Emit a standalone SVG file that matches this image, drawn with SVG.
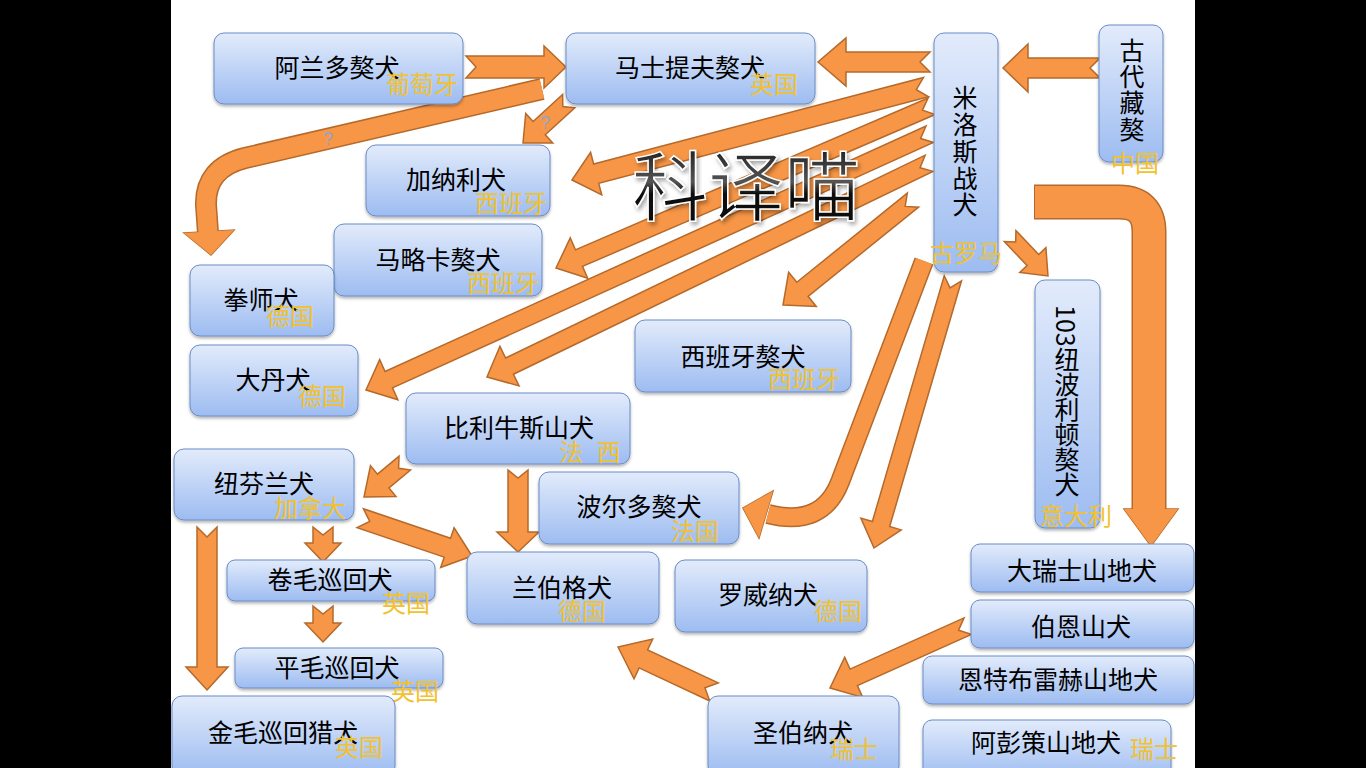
<svg xmlns="http://www.w3.org/2000/svg" width="1366" height="768" viewBox="0 0 1366 768">
<defs>
<linearGradient id="bg" x1="0" y1="0" x2="0" y2="1">
<stop offset="0" stop-color="#E2EBFB"/>
<stop offset="1" stop-color="#9DBCF1"/>
</linearGradient>
<linearGradient id="tg" x1="0" y1="0" x2="0" y2="1">
<stop offset="0" stop-color="#000"/>
<stop offset="0.5" stop-color="#555"/>
<stop offset="0.6" stop-color="#111"/>
<stop offset="1" stop-color="#000"/>
</linearGradient>
<filter id="sh" x="-10%" y="-10%" width="120%" height="130%">
<feDropShadow dx="0" dy="2" stdDeviation="1.5" flood-color="#000" flood-opacity="0.3"/>
</filter>
<filter id="tsh" x="-10%" y="-10%" width="120%" height="130%">
<feDropShadow dx="2" dy="3" stdDeviation="2" flood-color="#000" flood-opacity="0.35"/>
</filter>
<clipPath id="slide"><rect x="171" y="0" width="1024" height="768"/></clipPath>
</defs>
<style>
.box{fill:url(#bg);stroke:#6B8CC6;stroke-width:1;filter:url(#sh)}
.t{font-family:"Noto Sans CJK SC","Liberation Sans",sans-serif;font-size:25px;fill:#000;text-anchor:middle}
.s{font-family:"Noto Sans CJK SC","Liberation Sans",sans-serif;font-size:24px;fill:#F2C12E;text-anchor:middle}
.ar{fill:#F79646;stroke:#B5692A;stroke-width:1.5;stroke-linejoin:miter}
.hd{fill:#F79646;stroke:none}
.q{font-family:"Liberation Sans",sans-serif;font-size:18px;fill:#8FA6CC;text-anchor:middle}
</style>
<rect x="0" y="0" width="1366" height="768" fill="#000"/>
<rect x="171" y="0" width="1024" height="768" fill="#fff"/>
<g clip-path="url(#slide)">
<g id="connectors">
<path class="ar" transform="translate(566,67)" d="M0,0L-22,-21L-22,-11L-100,-11L-90,0L-100,11L-22,11L-22,21Z"/>
<path class="ar" transform="translate(1003,68) rotate(180)" d="M0,0L-25,-24L-25,-10L-97,-10L-87,0L-97,10L-25,10L-25,24Z"/>
<path class="ar" transform="translate(818,62) rotate(180)" d="M0,0L-28,-24L-28,-10L-112,-10L-102,0L-112,10L-28,10L-28,24Z"/>
<path class="ar" transform="translate(523,143) rotate(137.5)" d="M0,0L-22,-20L-22,-9L-62,-9L-54,0L-62,9L-22,9L-22,20Z"/>
<path class="ar" transform="translate(572,180) rotate(165.3)" d="M0,0L-25,-22L-25,-10L-366,-10L-356,0L-366,10L-25,10L-25,22Z"/>
<path class="ar" transform="translate(556,268) rotate(156.7)" d="M0,0L-25,-22L-25,-9L-409,-9L-399,0L-409,9L-25,9L-25,22Z"/>
<path class="ar" transform="translate(366,390) rotate(155.6)" d="M0,0L-25,-22L-25,-9L-619,-9L-609,0L-619,9L-25,9L-25,22Z"/>
<path class="ar" transform="translate(487,377) rotate(154.2)" d="M0,0L-25,-22L-25,-9L-491,-9L-481,0L-491,9L-25,9L-25,22Z"/>
<path class="ar" transform="translate(783,305) rotate(141.1)" d="M0,0L-25,-22L-25,-9L-167,-9L-157,0L-167,9L-25,9L-25,22Z"/>
<path class="ar" transform="translate(1048,276) rotate(46.5)" d="M0,0L-22,-18L-22,-8L-55,-8L-47,0L-55,8L-22,8L-22,18Z"/>
<path class="ar" transform="translate(874,548) rotate(106.3)" d="M0,0L-25,-21L-25,-9L-281,-9L-271,0L-281,9L-25,9L-25,21Z"/>
<path class="ar" transform="translate(830,688) rotate(155.8)" d="M0,0L-26,-22L-26,-9L-151,-9L-141,0L-151,9L-26,9L-26,22Z"/>
<path class="ar" transform="translate(618,647) rotate(205.1)" d="M0,0L-28,-22L-28,-10L-106,-10L-96,0L-106,10L-28,10L-28,22Z"/>
<path class="ar" transform="translate(364,497) rotate(140.3)" d="M0,0L-25,-20L-25,-9L-53,-9L-45,0L-53,9L-25,9L-25,20Z"/>
<path class="ar" transform="translate(518,552) rotate(90)" d="M0,0L-20,-21L-20,-10L-82,-10L-74,0L-82,10L-20,10L-20,21Z"/>
<path class="ar" transform="translate(472,556) rotate(18.7)" d="M0,0L-26,-21L-26,-10L-118,-10L-108,0L-118,10L-26,10L-26,21Z"/>
<path class="ar" transform="translate(323,562) rotate(90)" d="M0,0L-19,-18L-19,-10L-35,-10L-27,0L-35,10L-19,10L-19,18Z"/>
<path class="ar" transform="translate(323,642) rotate(90)" d="M0,0L-19,-18L-19,-10L-36,-10L-28,0L-36,10L-19,10L-19,18Z"/>
<path class="ar" transform="translate(207,690) rotate(90)" d="M0,0L-23,-21L-23,-10L-163,-10L-153,0L-163,10L-23,10L-23,21Z"/>
<!-- curved: to boxer -->
<path d="M542,89 L245,158 Q205,168 206,205 L208,233" fill="none" stroke="#B5692A" stroke-width="22"/>
<polygon class="ar" points="184,233 234,230 211,255"/>
<path d="M542,89 L245,158 Q205,168 206,205 L208,233" fill="none" stroke="#F79646" stroke-width="19"/>
<polygon class="hd" points="184,233 234,230 211,255"/>
<!-- curved: big right -->
<path d="M1034,202 L1119,202 Q1149,202 1149,232 L1149,509" fill="none" stroke="#B5692A" stroke-width="35"/>
<polygon class="ar" points="1124,509 1178,509 1151,546"/>
<path d="M1035,202 L1119,202 Q1149,202 1149,232 L1149,509" fill="none" stroke="#F79646" stroke-width="32"/>
<polygon class="hd" points="1124,509 1178,509 1151,546"/>
<!-- curved: to Bordeaux -->
<path d="M924,261 L840,482 Q822,528 768,514" fill="none" stroke="#B5692A" stroke-width="20"/>
<polygon class="ar" points="773,491 759,538 743,508"/>
<path d="M924,261 L840,482 Q822,528 768,514" fill="none" stroke="#F79646" stroke-width="17"/>
<polygon class="hd" points="773,491 759,538 743,508"/>
<text class="q" x="328" y="145">?</text>
<text class="q" x="545" y="129">?</text>
</g>
<g id="title"><text x="746" y="215" font-family="'Noto Sans CJK SC',sans-serif" font-size="76" text-anchor="middle" fill="url(#tg)" stroke="#fff" stroke-width="1.5" filter="url(#tsh)">科译喵</text></g>
<g id="n1"><rect class="box" x="214" y="33" width="249" height="71" rx="10"/><text class="t" x="337" y="77">阿兰多獒犬</text><text class="s" x="422" y="93">葡萄牙</text></g>
<g id="n2"><rect class="box" x="566" y="33" width="249" height="71" rx="10"/><text class="t" x="690" y="77">马士提夫獒犬</text><text class="s" x="774" y="93">英国</text></g>
<g id="n3"><rect class="box" x="934" y="33" width="64" height="239" rx="10"/><text class="t" x="965"><tspan x="965" y="107">米</tspan><tspan x="965" y="134">洛</tspan><tspan x="965" y="161">斯</tspan><tspan x="965" y="188">战</tspan><tspan x="965" y="214">犬</tspan></text><text class="s" x="966" y="262">古罗马</text></g>
<g id="n4"><rect class="box" x="1099" y="25" width="64" height="137" rx="10"/><text class="t" x="1132"><tspan x="1132" y="60">古</tspan><tspan x="1132" y="86">代</tspan><tspan x="1132" y="112">藏</tspan><tspan x="1132" y="139">獒</tspan></text><text class="s" x="1135" y="172">中国</text></g>
<g id="n5"><rect class="box" x="366" y="145" width="184" height="71" rx="10"/><text class="t" x="456" y="189">加纳利犬</text><text class="s" x="511" y="212">西班牙</text></g>
<g id="n6"><rect class="box" x="334" y="224" width="208" height="72" rx="10"/><text class="t" x="438" y="269">马略卡獒犬</text><text class="s" x="503" y="292">西班牙</text></g>
<g id="n7"><rect class="box" x="190" y="265" width="144" height="71" rx="10"/><text class="t" x="261" y="309">拳师犬</text><text class="s" x="290" y="325">德国</text></g>
<g id="n8"><rect class="box" x="190" y="345" width="168" height="71" rx="10"/><text class="t" x="273" y="389">大丹犬</text><text class="s" x="322" y="405">德国</text></g>
<g id="n9"><rect class="box" x="635" y="320" width="216" height="72" rx="10"/><text class="t" x="743" y="366">西班牙獒犬</text><text class="s" x="804" y="388">西班牙</text></g>
<g id="n10"><rect class="box" x="406" y="393" width="224" height="71" rx="10"/><text class="t" x="519" y="437">比利牛斯山犬</text><text class="s" x="590" y="461" style="word-spacing:8px">法 西</text></g>
<g id="n11"><rect class="box" x="1035" y="280" width="65" height="248" rx="10"/><text class="t" x="1067" y="305" style="writing-mode:vertical-rl;text-anchor:start">103纽波利顿獒犬</text><text class="s" x="1076" y="525">意大利</text></g>
<g id="n12"><rect class="box" x="174" y="449" width="180" height="71" rx="10"/><text class="t" x="264" y="493">纽芬兰犬</text><text class="s" x="310" y="517">加拿大</text></g>
<g id="n13"><rect class="box" x="539" y="472" width="200" height="72" rx="10"/><text class="t" x="639" y="516">波尔多獒犬</text><text class="s" x="695" y="540">法国</text></g>
<g id="n14"><rect class="box" x="227" y="560" width="208" height="41" rx="8"/><text class="t" x="330" y="589">卷毛巡回犬</text><text class="s" x="406" y="612">英国</text></g>
<g id="n15"><rect class="box" x="467" y="552" width="192" height="72" rx="10"/><text class="t" x="562" y="597">兰伯格犬</text><text class="s" x="582" y="620">德国</text></g>
<g id="n16"><rect class="box" x="675" y="560" width="192" height="72" rx="10"/><text class="t" x="768" y="604">罗威纳犬</text><text class="s" x="838" y="620">德国</text></g>
<g id="n17"><rect class="box" x="235" y="648" width="208" height="40" rx="8"/><text class="t" x="337" y="677">平毛巡回犬</text><text class="s" x="415" y="700">英国</text></g>
<g id="n18"><rect class="box" x="172" y="696" width="223" height="80" rx="10"/><text class="t" x="283" y="742">金毛巡回猎犬</text><text class="s" x="359" y="756">英国</text></g>
<g id="n19"><rect class="box" x="708" y="696" width="191" height="80" rx="10"/><text class="t" x="803" y="742">圣伯纳犬</text><text class="s" x="854" y="758">瑞士</text></g>
<g id="n20"><rect class="box" x="971" y="544" width="223" height="48" rx="9"/><text class="t" x="1082" y="580">大瑞士山地犬</text></g>
<g id="n21"><rect class="box" x="971" y="600" width="223" height="48" rx="9"/><text class="t" x="1081" y="636">伯恩山犬</text></g>
<g id="n22"><rect class="box" x="923" y="656" width="271" height="48" rx="9"/><text class="t" x="1058" y="689">恩特布雷赫山地犬</text></g>
<g id="n23"><rect class="box" x="923" y="720" width="248" height="60" rx="9"/><text class="t" x="1046" y="752">阿彭策山地犬</text><text class="s" x="1154" y="758">瑞士</text></g>
</g>
</svg>
